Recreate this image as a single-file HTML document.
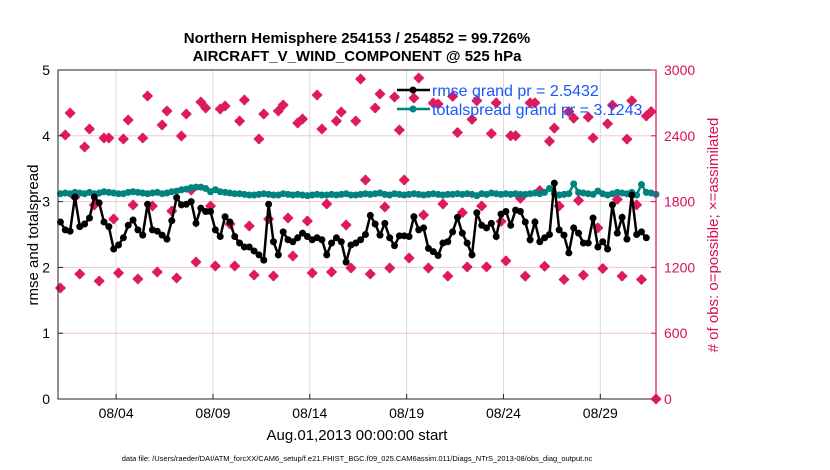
<!DOCTYPE html>
<html><head><meta charset="utf-8"><style>
html,body{margin:0;padding:0;background:#fff;}
svg{display:block;font-family:"Liberation Sans",sans-serif;}
</style></head><body>
<svg id="chart" width="830" height="470" xmlns="http://www.w3.org/2000/svg">
<text x="357" y="43" text-anchor="middle" font-size="15" font-weight="bold">Northern Hemisphere 254153 / 254852 = 99.726%</text>
<text x="357" y="61" text-anchor="middle" font-size="15" font-weight="bold">AIRCRAFT_V_WIND_COMPONENT @ 525 hPa</text>
<g id="grid"></g>
<g id="obs"></g>
<g id="series"></g>
<rect x="58" y="70" width="598" height="329" fill="none" stroke="#222" stroke-width="1"/>
<line x1="656" y1="70" x2="656" y2="399" stroke="#d6105a" stroke-width="1.2"/>
<g id="axes"></g>
<text transform="translate(38,235) rotate(-90)" text-anchor="middle" font-size="15">rmse and totalspread</text>
<text transform="translate(718,235) rotate(-90)" text-anchor="middle" font-size="15" fill="#d6105a"># of obs: o=possible; ×=assimilated</text>
<text x="357" y="440" text-anchor="middle" font-size="15">Aug.01,2013 00:00:00 start</text>
<text x="357" y="461" text-anchor="middle" font-size="7.5">data file: /Users/raeder/DAI/ATM_forcXX/CAM6_setup/f.e21.FHIST_BGC.f09_025.CAM6assim.011/Diags_NTrS_2013-08/obs_diag_output.nc</text>
<g id="legend"></g>
</svg>
<script>
const rmse=[2.69,2.57,2.55,3.07,2.62,2.66,2.75,3.07,2.98,2.69,2.62,2.28,2.34,2.45,2.64,2.72,2.57,2.49,2.96,2.57,2.55,2.49,2.43,2.71,3.06,2.95,2.96,3.0,2.67,2.9,2.85,
2.85,2.57,2.47,2.77,2.69,2.47,2.37,2.31,2.31,2.25,2.19,2.11,2.96,2.39,2.19,2.54,2.42,2.39,2.45,2.52,2.47,2.42,2.45,2.42,2.19,2.37,2.45,2.39,2.08,2.34,
2.37,2.42,2.5,2.79,2.66,2.49,2.67,2.45,2.33,2.48,2.48,2.47,2.77,2.57,2.6,2.29,2.24,2.18,2.37,2.39,2.54,2.76,2.52,2.37,2.19,2.83,2.64,2.6,2.67,2.47,2.81,
2.85,2.64,2.87,2.85,2.69,2.42,2.69,2.39,2.45,2.5,3.28,2.57,2.49,2.22,2.6,2.52,2.37,2.37,2.75,2.31,2.39,2.28,2.95,2.52,2.76,2.43,3.1,2.5,2.54,2.45];
const spread=[3.12,3.13,3.12,3.14,3.13,3.12,3.14,3.12,3.13,3.15,3.14,3.13,3.12,3.12,3.14,3.15,3.14,3.13,3.12,3.13,3.14,3.12,3.13,3.15,3.16,3.18,3.19,3.21,3.22,3.22,3.2,
3.15,3.18,3.15,3.14,3.13,3.12,3.12,3.11,3.1,3.1,3.11,3.12,3.11,3.1,3.1,3.12,3.11,3.1,3.11,3.1,3.09,3.1,3.11,3.1,3.1,3.11,3.1,3.11,3.12,3.1,
3.1,3.11,3.12,3.11,3.12,3.13,3.11,3.1,3.12,3.11,3.1,3.11,3.12,3.11,3.1,3.11,3.12,3.11,3.1,3.11,3.11,3.12,3.11,3.12,3.11,3.09,3.12,3.11,3.13,3.12,3.11,
3.12,3.11,3.12,3.11,3.11,3.12,3.13,3.12,3.14,3.2,3.12,3.1,3.11,3.12,3.27,3.14,3.13,3.12,3.11,3.16,3.12,3.1,3.12,3.14,3.13,3.12,3.14,3.1,3.26,3.14,3.13,3.11];
const obsLow=[1012,1140,1076,1149,1094,1158,1103,1249,1213,1213,1131,1122,1304,1149,1158,1195,1140,1195,1286,1195,1120,1204,1205,1260,1120,1210,1090,1130,1190,1120,1090];
const obsHighA=[2407,2298,2380,2371,2380,2498,2398,2708,2644,2535,2371,2626,2517,2772,2535,2535,2653,2754,2745,2699,2760,2550,2420,2400,2700,2350,2620,2570,2510,2370,2580];
const obsHighB=[2608,2462,2380,2544,2763,2626,2599,2653,2672,2726,2599,2681,2553,2462,2617,2918,2781,2453,2927,2690,2430,2720,2700,2400,2700,2470,2560,2380,2680,2720,2620];
const obsMid=[1842,1769,1641,1769,1760,1714,1906,1760,1596,1577,1641,1650,1623,1778,1587,1997,1751,1997,1678,1778,1700,1760,1620,1830,1900,1760,1810,1560,1820,1770,0];
const xTicks=[3,8,13,18,23,28];
const xTickLabels=["08/04","08/09","08/14","08/19","08/24","08/29"];
const yTicks=[0,1,2,3,4,5];
const y2Ticks=[0,600,1200,1800,2400,3000];

const NS="http://www.w3.org/2000/svg";
const X0=58,X1=656,Y0=399,Y1=70,TMAX=30.875;
const xs=t=>X0+(t/TMAX)*(X1-X0);
const ys=v=>Y0-(v/5)*(Y0-Y1);
const ys2=v=>Y0-(v/3000)*(Y0-Y1);
const tAt=i=>0.125+0.25*i;
function mk(tag,attrs,parent){const e=document.createElementNS(NS,tag);for(const k in attrs)e.setAttribute(k,attrs[k]);parent.appendChild(e);return e;}
const grid=document.getElementById('grid'),axes=document.getElementById('axes'),obsG=document.getElementById('obs'),ser=document.getElementById('series'),leg=document.getElementById('legend');

xTicks.forEach((t,i)=>{
  const l=mk('line',{x1:xs(t),x2:xs(t),y1:Y1,y2:Y0,stroke:'#d8d8d8','stroke-width':1},grid);
  
  
  const tk=mk('line',{x1:xs(t),x2:xs(t),y1:Y0,y2:Y0-5,stroke:'#222'},axes);
  
  
  const tx=mk('text',{x:xs(t),y:418,'text-anchor':'middle','font-size':14},axes);
  tx.textContent=xTickLabels[i];
  
  
});
y2Ticks.forEach(v=>{
  if(v>0&&v<3000){const l=mk('line',{x1:X0,x2:X1,y1:ys2(v),y2:ys2(v),stroke:'#f0c8d4','stroke-width':1},grid);
  
  }
  const tk=mk('line',{x1:X1,x2:X1-5,y1:ys2(v),y2:ys2(v),stroke:'#d6105a'},axes);
  
  
  const tx=mk('text',{x:664,y:ys2(v)+5,'font-size':14,fill:'#d6105a'},axes);
  tx.textContent=v;
  
  
});
yTicks.forEach(v=>{
  const tk=mk('line',{x1:X0,x2:X0+5,y1:ys(v),y2:ys(v),stroke:'#222'},axes);
  
  
  const tx=mk('text',{x:50,y:ys(v)+5,'font-size':14,'text-anchor':'end'},axes);
  tx.textContent=v;
  
  
});
function diamond(cx,cy,parent,name){
  const g=mk('g',{},parent);
  
  
  mk('path',{d:`M${cx} ${cy-5.5}L${cx+5.5} ${cy}L${cx} ${cy+5.5}L${cx-5.5} ${cy}Z`,fill:'#dc1a5c'},g);
  mk('path',{d:`M${cx-4.5} ${cy}H${cx+4.5}M${cx} ${cy-4.5}V${cy+4.5}`,stroke:'#dc1a5c','stroke-width':3},g);
}
for(let d=0;d<31;d++){
  diamond(xs(d+0.125),ys2(obsLow[d]),obsG,'obs-count-point');
  diamond(xs(d+0.375),ys2(obsHighA[d]),obsG,'obs-count-point');
  diamond(xs(d+0.625),ys2(obsHighB[d]),obsG,'obs-count-point');
  diamond(xs(d+0.875),ys2(obsMid[d]),obsG,'obs-count-point');
}
function series(vals,color,name){
  const pts=vals.map((v,i)=>xs(tAt(i)).toFixed(1)+','+ys(v).toFixed(1)).join(' ');
  const pl=mk('polyline',{points:pts,fill:'none',stroke:color,'stroke-width':2.5},ser);
  
  
  vals.forEach((v,i)=>{
    const c=mk('circle',{cx:xs(tAt(i)),cy:ys(v),r:3.5,fill:color},ser);
    
    
  });
}
series(spread,'#00827f','totalspread');
series(rmse,'#000000','rmse');
[['#000000','rmse grand pr = 2.5432',90],['#00827f','totalspread grand pr = 3.1243',109]].forEach(([c,t,y],i)=>{
  const g=mk('g',{},leg);
  
  
  mk('line',{x1:397,x2:430,y1:y,y2:y,stroke:c,'stroke-width':2.5},g);
  mk('circle',{cx:413,cy:y,r:3.5,fill:c},g);
  const tx=mk('text',{x:432,y:y+6,'font-size':16,fill:'#1a55ff'},g);
  tx.textContent=t;
});
</script>
</body></html>
